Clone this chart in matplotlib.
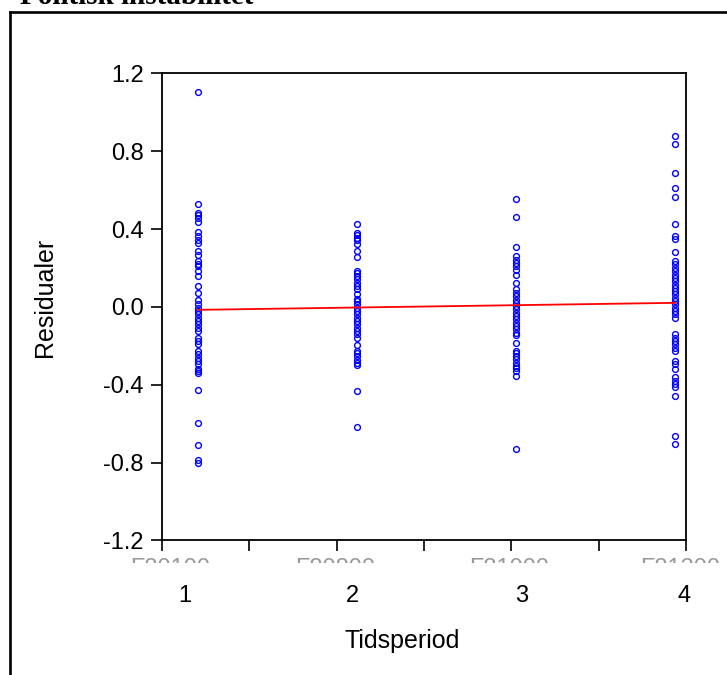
import matplotlib
matplotlib.use("Agg")
import matplotlib.pyplot as plt
from matplotlib.lines import Line2D
from matplotlib.transforms import Bbox, blended_transform_factory
import numpy as np

plt.rcParams['font.family'] = ['Liberation Sans', 'DejaVu Sans']
plt.rcParams['axes.unicode_minus'] = False

# residuals per time period
res_1 = [1.104, 0.530, 0.485, 0.472, 0.456, 0.436, 0.383, 0.362, 0.345, 0.328,
         0.286, 0.269, 0.234, 0.223, 0.209, 0.183, 0.161, 0.110, 0.073, 0.038,
         0.013, -0.004, -0.021, -0.038, -0.055, -0.073, -0.090, -0.107, -0.124,
         -0.158, -0.175, -0.192, -0.226, -0.243, -0.260, -0.277, -0.294, -0.320,
         -0.329, -0.337, -0.427, -0.598, -0.709, -0.785, -0.804]
res_2 = [0.427, 0.380, 0.368, 0.354, 0.342, 0.325, 0.289, 0.257, 0.187, 0.175,
         0.158, 0.141, 0.124, 0.107, 0.090, 0.067, 0.043, 0.030, 0.013, -0.004,
         -0.021, -0.038, -0.055, -0.073, -0.090, -0.107, -0.124, -0.141, -0.158,
         -0.197, -0.226, -0.238, -0.252, -0.272, -0.286, -0.298, -0.432, -0.615]
res_3 = [0.554, 0.460, 0.310, 0.264, 0.243, 0.226, 0.209, 0.192, 0.166, 0.124,
         0.090, 0.073, 0.055, 0.038, 0.021, 0.004, -0.013, -0.030, -0.047, -0.064,
         -0.081, -0.098, -0.115, -0.132, -0.144, -0.187, -0.226, -0.238, -0.252,
         -0.269, -0.286, -0.303, -0.316, -0.329, -0.357, -0.729]
res_4 = [0.878, 0.837, 0.687, 0.610, 0.564, 0.426, 0.366, 0.351, 0.281, 0.234,
         0.218, 0.200, 0.183, 0.166, 0.149, 0.132, 0.115, 0.098, 0.081, 0.064,
         0.047, 0.030, 0.013, -0.004, -0.021, -0.038, -0.055, -0.141, -0.158,
         -0.175, -0.192, -0.209, -0.226, -0.277, -0.294, -0.320, -0.362, -0.380,
         -0.397, -0.414, -0.456, -0.661, -0.704]
groups = [res_1, res_2, res_3, res_4]
periods = [1, 2, 3, 4]

fit_x = [1, 4]
fit_y = [-0.015, 0.021]

yticks = [1.2, 0.8, 0.4, 0.0, -0.4, -0.8, -1.2]
period_labels = ["1", "2", "3", "4"]
period_label_pos = [0.916, 1.973, 3.037, 4.057]
hidden_labels = ["F80100", "F80800", "F81000", "F81200"]
hidden_label_pos = [0.82, 1.86, 2.955, 4.03]

fig = plt.figure(figsize=(7.27, 6.75), dpi=100)
ax = fig.add_axes([0.2228, 0.1993, 0.7208, 0.692])

for p, vals in zip(periods, groups):
    ax.plot([p] * len(vals), vals, 'o', ls='none', mfc='none', mec='#0000ff',
            ms=4.2, mew=1.0, zorder=3)
ax.plot(fit_x, fit_y, color='#ff0000', lw=1.3, zorder=4)

ax.set_xlim(0.7715, 4.069)
ax.set_ylim(-1.2, 1.2)
ax.set_yticks(yticks)
ax.set_yticklabels([f"{v:.1f}" for v in yticks])
ax.set_xticks(0.7715 + 0.5494 * np.arange(7))
ax.set_xticklabels([])
ax.tick_params(axis='both', direction='out', length=8, width=1.2,
               labelsize=17, pad=5, color='black')
for s in ax.spines.values():
    s.set_linewidth(1.3)
    s.set_color('black')

# period numbers below the axis
tr = blended_transform_factory(ax.transData, fig.transFigure)
for pos, lab in zip(period_label_pos, period_labels):
    ax.text(pos, 0.108, lab, transform=tr, ha='center', va='baseline',
            fontsize=17, clip_on=False)

# half-hidden date labels
clip = Bbox.from_extents(0, 112, 727, 675)
for pos, lab in zip(hidden_label_pos, hidden_labels):
    t = ax.text(pos, 0.148, lab, transform=tr, ha='center', va='baseline',
                fontsize=17, color='#999999')
    t.set_clip_on(True)
    t.set_clip_box(clip)

fig.text(402 / 727, 0.0396, "Tidsperiod", ha='center', va='baseline', fontsize=18)
fig.text(45 / 727, 0.56, "Residualer", ha='center', va='center',
         rotation=90, fontsize=18)

# outer frame and cut title
fig.add_artist(Line2D([0.0144, 1.0], [0.9822, 0.9822], color='black',
                      lw=1.9, transform=fig.transFigure))
fig.add_artist(Line2D([0.0144, 0.0144], [0.0, 0.9822], color='black',
                      lw=1.9, transform=fig.transFigure))
fig.text(20 / 727, (675 - 4) / 675, "Politisk instabilitet", ha='left',
         va='baseline', fontsize=21, fontweight='bold',
         family=['Liberation Serif', 'DejaVu Serif'])

fig.savefig("out.png", dpi=100)
